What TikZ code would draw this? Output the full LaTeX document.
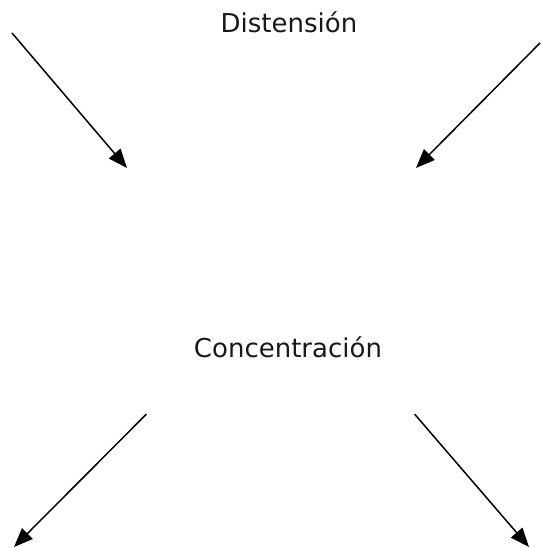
\documentclass[tikz,border=0pt]{standalone}
\usepackage{fontspec}
\setmainfont{DejaVu Sans}
\usetikzlibrary{arrows.meta}
\tikzset{
  lbl/.style={anchor=base, inner sep=0pt, font=\fontsize{26}{31}\selectfont, text=black!90},
  arr/.style={line width=1.5pt, -{Triangle[length=19pt,width=15pt]}}
}
\begin{document}
\begin{tikzpicture}[x=1pt,y=-1pt]
\useasboundingbox (0,0) rectangle (540,548);
\node[lbl] (dist) at (289,33) {Distensión};
\node[lbl] (conc) at (288,357.5) {Concentración};
\coordinate (a1s) at (12,33);
\coordinate (a1e) at (127,168);
\coordinate (a2s) at (540,43);
\coordinate (a2e) at (416,168);
\coordinate (a3s) at (146.5,414);
\coordinate (a3e) at (14,547);
\coordinate (a4s) at (414.5,414);
\coordinate (a4e) at (529,547);
\draw[arr] (a1s) -- (a1e);
\draw[arr] (a2s) -- (a2e);
\draw[arr] (a3s) -- (a3e);
\draw[arr] (a4s) -- (a4e);
\end{tikzpicture}
\end{document}
